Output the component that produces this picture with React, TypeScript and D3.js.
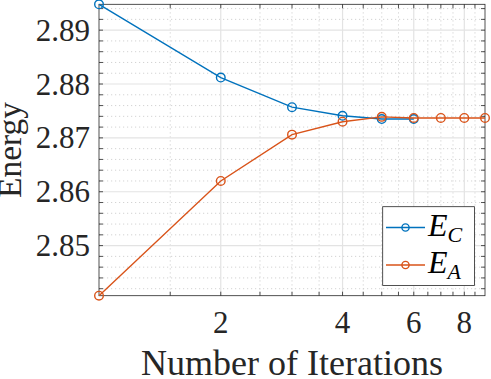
import React from 'react';
import * as d3 from 'd3';

const iterations = [1, 2, 3, 4, 5, 6, 7, 8, 9];
const energyC = [2.8948, 2.8812, 2.8757, 2.8741, 2.8735, 2.8735];
const energyA = [2.8407, 2.862, 2.8706, 2.873, 2.8739, 2.8737, 2.8737, 2.8737, 2.8737];

const xMajor = [2, 4, 6, 8];
const xMinor = [1.5, 2.5, 3, 3.5, 4.5, 5, 5.5, 6.5, 7, 7.5, 8.5];
const yMajor = [2.85, 2.86, 2.87, 2.88, 2.89];
const yMinor = d3.range(2.842, 2.8945, 0.002).map((v) => +v.toFixed(3)).filter((v) => !yMajor.some((m) => Math.abs(m - v) < 1e-6));

const BLUE = '#0072BD';
const ORANGE = '#D95319';
const AXIS = '#262626';
const SERIF = "'Liberation Serif', 'Times New Roman', Times, 'DejaVu Serif', serif";

const W = 491;
const H = 379;
const m = { left: 99, right: 6, top: 4.3, bottom: 83.3 };

export default function App() {
  const x = d3.scaleLog().domain([1, 9]).range([m.left, W - m.right]);
  const allE = [...energyC, ...energyA];
  const y = d3.scaleLinear().domain([d3.min(allE)!, d3.max(allE)!]).range([H - m.bottom, m.top]);

  const seriesC = energyC.map((v, i) => [iterations[i], v] as [number, number]);
  const seriesA = energyA.map((v, i) => [iterations[i], v] as [number, number]);
  const line = d3.line<[number, number]>().x((d) => x(d[0])).y((d) => y(d[1]));

  const [x0, x1] = x.range();
  const [y0, y1] = y.range();
  const tick = 4;
  const txt = { fontFamily: SERIF };

  return (
    <svg width={W} height={H} style={{ position: 'absolute', left: 0, top: 0, background: '#fff' }}>
      {/* grid */}
      {xMinor.map((t) => (
        <line key={'gxm' + t} x1={x(t)} x2={x(t)} y1={y1} y2={y0} stroke="#c8c8c8" strokeWidth={0.8} strokeDasharray="1.2,2.8" />
      ))}
      {yMinor.map((t) => (
        <line key={'gym' + t} x1={x0} x2={x1} y1={y(t)} y2={y(t)} stroke="#c8c8c8" strokeWidth={0.8} strokeDasharray="1.2,2.8" />
      ))}
      {xMajor.map((t) => (
        <line key={'gx' + t} x1={x(t)} x2={x(t)} y1={y1} y2={y0} stroke="#e3e3e3" strokeWidth={1.2} />
      ))}
      {yMajor.map((t) => (
        <line key={'gy' + t} x1={x0} x2={x1} y1={y(t)} y2={y(t)} stroke="#e3e3e3" strokeWidth={1.2} />
      ))}

      {/* ticks */}
      {[...xMajor, ...xMinor].map((t) => (
        <g key={'tx' + t} stroke={AXIS} strokeWidth={0.8}>
          <line x1={x(t)} x2={x(t)} y1={y0} y2={y0 - tick} />
          <line x1={x(t)} x2={x(t)} y1={y1} y2={y1 + tick} />
        </g>
      ))}
      {[...yMajor, ...yMinor].map((t) => (
        <g key={'ty' + t} stroke={AXIS} strokeWidth={0.8}>
          <line x1={x0} x2={x0 + tick} y1={y(t)} y2={y(t)} />
          <line x1={x1} x2={x1 - tick} y1={y(t)} y2={y(t)} />
        </g>
      ))}
      <rect x={x0} y={y1} width={x1 - x0} height={y0 - y1} fill="none" stroke={AXIS} strokeWidth={0.8} />

      {/* tick labels */}
      {xMajor.map((t) => (
        <text key={'lx' + t} x={x(t)} y={333} textAnchor="middle" style={txt} fontSize={31} fill={AXIS}>
          {t}
        </text>
      ))}
      {yMajor.map((t) => (
        <text key={'ly' + t} x={90} y={y(t) + 10.5} textAnchor="end" style={txt} fontSize={31} fill={AXIS}>
          {d3.format('.2f')(t)}
        </text>
      ))}

      {/* axis labels */}
      <text x={(x0 + x1) / 2} y={375} textAnchor="middle" style={txt} fontSize={36} fill={AXIS}>
        Number of Iterations
      </text>
      <text transform={`translate(21,${(y0 + y1) / 2}) rotate(-90)`} textAnchor="middle" style={txt} fontSize={33.5} fill={AXIS}>
        Energy
      </text>

      {/* series */}
      <path d={line(seriesC)!} fill="none" stroke={BLUE} strokeWidth={1.4} />
      {seriesC.map((d, i) => (
        <circle key={'c' + i} cx={x(d[0])} cy={y(d[1])} r={4.3} fill="none" stroke={BLUE} strokeWidth={1.4} />
      ))}
      <path d={line(seriesA)!} fill="none" stroke={ORANGE} strokeWidth={1.4} />
      {seriesA.map((d, i) => (
        <circle key={'a' + i} cx={x(d[0])} cy={y(d[1])} r={4.3} fill="none" stroke={ORANGE} strokeWidth={1.4} />
      ))}

      {/* legend */}
      <g>
        <rect x={382.7} y={206.7} width={91.8} height={78.8} fill="#fff" stroke={AXIS} strokeWidth={0.8} />
        {[
          { c: BLUE, sub: 'C', cy: 227.5 },
          { c: ORANGE, sub: 'A', cy: 265 },
        ].map((e) => (
          <g key={e.sub}>
            <line x1={386} x2={425} y1={e.cy} y2={e.cy} stroke={e.c} strokeWidth={1.4} />
            <circle cx={405.5} cy={e.cy} r={3.6} fill="none" stroke={e.c} strokeWidth={1.4} />
            <text x={428} y={e.cy + 8} style={txt} fontSize={32} fontStyle="italic" fill="#000">
              E<tspan fontSize={22} dy={6}>{e.sub}</tspan>
            </text>
          </g>
        ))}
      </g>
    </svg>
  );
}
